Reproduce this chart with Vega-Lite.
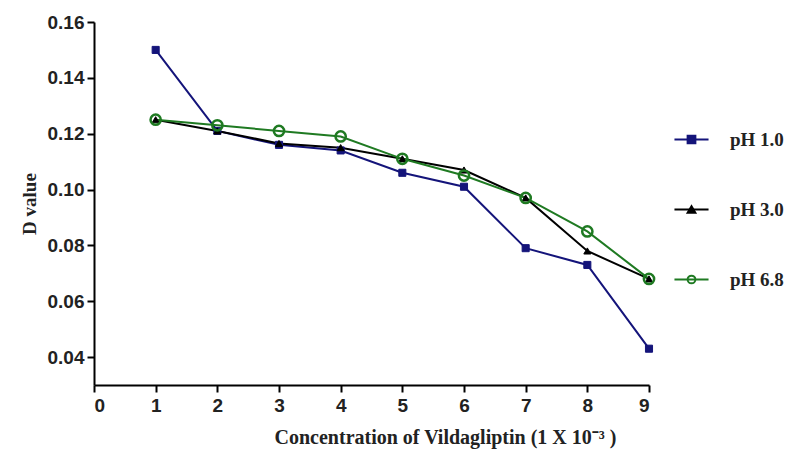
{
  "$schema": "https://vega.github.io/schema/vega-lite/v6.json",
  "width": 555,
  "height": 363,
  "autosize": {"type": "none"},
  "padding": {"left": 94, "top": 22, "right": 154, "bottom": 71},
  "background": "white",
  "config": {
    "view": {"stroke": null},
    "axis": {
      "grid": false,
      "domainColor": "black",
      "domainWidth": 2,
      "tickColor": "black",
      "tickWidth": 2,
      "tickSize": 7,
      "labelFont": "Liberation Sans",
      "labelFontWeight": "bold",
      "labelFontSize": 19,
      "labelColor": "#222",
      "titleFont": "Liberation Serif",
      "titleFontWeight": "bold",
      "titleColor": "#222"
    },
    "legend": {
      "title": null,
      "orient": "none",
      "legendX": 588,
      "legendY": 108,
      "padding": 0,
      "rowPadding": 50,
      "symbolSize": 60,
      "labelFont": "Liberation Serif",
      "labelFontWeight": "bold",
      "labelFontSize": 19,
      "labelColor": "#222",
      "labelOffset": 29,
      "symbolStrokeWidth": 2
    }
  },
  "data": {
    "values": [
      {"x": 1, "y": 0.150, "s": "pH 1.0"},
      {"x": 2, "y": 0.121, "s": "pH 1.0"},
      {"x": 3, "y": 0.116, "s": "pH 1.0"},
      {"x": 4, "y": 0.114, "s": "pH 1.0"},
      {"x": 5, "y": 0.106, "s": "pH 1.0"},
      {"x": 6, "y": 0.101, "s": "pH 1.0"},
      {"x": 7, "y": 0.079, "s": "pH 1.0"},
      {"x": 8, "y": 0.073, "s": "pH 1.0"},
      {"x": 9, "y": 0.043, "s": "pH 1.0"},
      {"x": 1, "y": 0.125, "s": "pH 3.0"},
      {"x": 2, "y": 0.121, "s": "pH 3.0"},
      {"x": 3, "y": 0.1165, "s": "pH 3.0"},
      {"x": 4, "y": 0.115, "s": "pH 3.0"},
      {"x": 5, "y": 0.111, "s": "pH 3.0"},
      {"x": 6, "y": 0.107, "s": "pH 3.0"},
      {"x": 7, "y": 0.097, "s": "pH 3.0"},
      {"x": 8, "y": 0.078, "s": "pH 3.0"},
      {"x": 9, "y": 0.068, "s": "pH 3.0"},
      {"x": 1, "y": 0.125, "s": "pH 6.8"},
      {"x": 2, "y": 0.123, "s": "pH 6.8"},
      {"x": 3, "y": 0.121, "s": "pH 6.8"},
      {"x": 4, "y": 0.119, "s": "pH 6.8"},
      {"x": 5, "y": 0.111, "s": "pH 6.8"},
      {"x": 6, "y": 0.105, "s": "pH 6.8"},
      {"x": 7, "y": 0.097, "s": "pH 6.8"},
      {"x": 8, "y": 0.085, "s": "pH 6.8"},
      {"x": 9, "y": 0.068, "s": "pH 6.8"}
    ]
  },
  "encoding": {
    "x": {
      "field": "x", "type": "quantitative",
      "scale": {"domain": [0, 9], "nice": false, "zero": false},
      "axis": {"values": [0,1,2,3,4,5,6,7,8,9], "title": "Concentration of Vildagliptin (1 X 10⁻³ )", "titleFontSize": 20, "titlePadding": 12, "labelPadding": 4, "titleX": 351}
    },
    "y": {
      "field": "y", "type": "quantitative",
      "scale": {"domain": [0.03, 0.16], "nice": false, "zero": false},
      "axis": {"values": [0.04,0.06,0.08,0.10,0.12,0.14,0.16], "format": ".2f", "title": "D value", "titleFontSize": 19, "titlePadding": 8, "labelPadding": 3}
    }
  },
  "layer": [
    {
      "mark": {"type": "line", "strokeWidth": 2},
      "encoding": {
        "color": {
          "field": "s", "type": "nominal",
          "scale": {"range": ["#14147a", "#000000", "#1f7a22"]},
          "legend": {"symbolType": "M-4.4,0H4.4", "labelOpacity": 0}
        }
      }
    },
    {
      "mark": {"type": "point", "opacity": 1},
      "encoding": {
        "shape": {
          "field": "s", "type": "nominal",
          "scale": {"domain": ["pH 1.0", "pH 3.0", "pH 6.8"], "range": ["square", "triangle-up", "circle"]}
        },
        "fill": {
          "field": "s", "type": "nominal",
          "scale": {"domain": ["pH 1.0", "pH 3.0", "pH 6.8"], "range": ["#14147a", "#000000", "transparent"]}
        },
        "stroke": {
          "field": "s", "type": "nominal",
          "scale": {"domain": ["pH 1.0", "pH 3.0", "pH 6.8"], "range": ["#14147a", "#000000", "#1f7a22"]}
        },
        "size": {
          "condition": {"test": "datum.s == 'pH 6.8'", "value": 105},
          "value": 50
        },
        "strokeWidth": {
          "condition": {"test": "datum.s == 'pH 6.8'", "value": 2.5},
          "value": 1
        }
      }
    }
  ]
}
